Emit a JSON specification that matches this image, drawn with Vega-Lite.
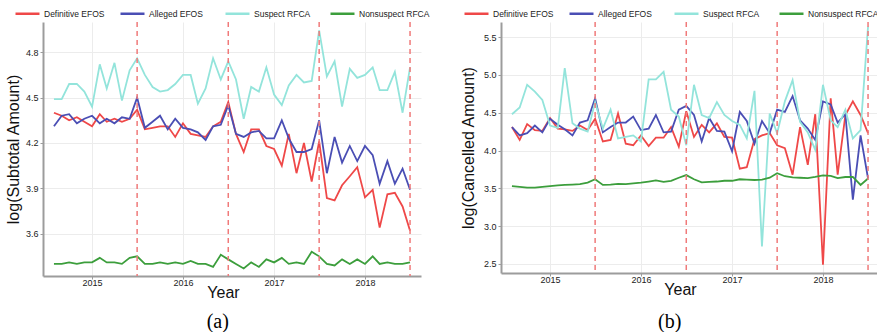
{
"$schema": "https://vega.github.io/schema/vega-lite/v6.json",
"padding": {"left": 5, "top": 0, "right": 0, "bottom": 0},
"bounds": "flush",
"spacing": 80,
"background": "white",
"config": {
 "view": {"stroke": null},
 "font": "Liberation Sans",
 "axis": {"domainColor": "#9c9c9c", "domainWidth": 2, "tickColor": "#9c9c9c", "tickSize": 3, "gridColor": "#ececec", "gridWidth": 1, "labelFont": "Liberation Sans", "labelFontSize": 9, "labelColor": "#222222", "titleFont": "Liberation Sans", "titleFontSize": 16, "titleFontWeight": "normal", "titleColor": "#111111"},
 "axisX": {"labelPadding": -1, "titlePadding": -3},
 "axisY": {"labelPadding": 2},
 "legend": {"labelFont": "Liberation Sans", "labelFontSize": 8.5, "labelColor": "#222222"}
},
"resolve": {"scale": {"color": "independent"}, "legend": {"color": "independent"}},
"datasets": {
 "rules": [{"d": "2015-07"}, {"d": "2016-07"}, {"d": "2017-07"}, {"d": "2018-07"}],
 "a": [
{"s":"Definitive EFOS","t":"2014-08","v":4.40},{"s":"Definitive EFOS","t":"2014-09","v":4.38},{"s":"Definitive EFOS","t":"2014-10","v":4.35},{"s":"Definitive EFOS","t":"2014-11","v":4.37},{"s":"Definitive EFOS","t":"2014-12","v":4.34},{"s":"Definitive EFOS","t":"2015-01","v":4.31},{"s":"Definitive EFOS","t":"2015-02","v":4.39},{"s":"Definitive EFOS","t":"2015-03","v":4.34},{"s":"Definitive EFOS","t":"2015-04","v":4.36},{"s":"Definitive EFOS","t":"2015-05","v":4.34},{"s":"Definitive EFOS","t":"2015-06","v":4.36},{"s":"Definitive EFOS","t":"2015-07","v":4.42},{"s":"Definitive EFOS","t":"2015-08","v":4.29},{"s":"Definitive EFOS","t":"2015-09","v":4.30},{"s":"Definitive EFOS","t":"2015-10","v":4.31},{"s":"Definitive EFOS","t":"2015-11","v":4.31},{"s":"Definitive EFOS","t":"2015-12","v":4.24},{"s":"Definitive EFOS","t":"2016-01","v":4.33},{"s":"Definitive EFOS","t":"2016-02","v":4.26},{"s":"Definitive EFOS","t":"2016-03","v":4.25},{"s":"Definitive EFOS","t":"2016-04","v":4.24},{"s":"Definitive EFOS","t":"2016-05","v":4.31},{"s":"Definitive EFOS","t":"2016-06","v":4.34},{"s":"Definitive EFOS","t":"2016-07","v":4.47},{"s":"Definitive EFOS","t":"2016-08","v":4.26},{"s":"Definitive EFOS","t":"2016-09","v":4.14},{"s":"Definitive EFOS","t":"2016-10","v":4.29},{"s":"Definitive EFOS","t":"2016-11","v":4.29},{"s":"Definitive EFOS","t":"2016-12","v":4.18},{"s":"Definitive EFOS","t":"2017-01","v":4.16},{"s":"Definitive EFOS","t":"2017-02","v":4.05},{"s":"Definitive EFOS","t":"2017-03","v":4.26},{"s":"Definitive EFOS","t":"2017-04","v":4.00},{"s":"Definitive EFOS","t":"2017-05","v":4.20},{"s":"Definitive EFOS","t":"2017-06","v":3.945},{"s":"Definitive EFOS","t":"2017-07","v":4.21},{"s":"Definitive EFOS","t":"2017-08","v":3.835},{"s":"Definitive EFOS","t":"2017-09","v":3.82},{"s":"Definitive EFOS","t":"2017-10","v":3.92},{"s":"Definitive EFOS","t":"2017-11","v":3.98},{"s":"Definitive EFOS","t":"2017-12","v":4.04},{"s":"Definitive EFOS","t":"2018-01","v":3.84},{"s":"Definitive EFOS","t":"2018-02","v":3.89},{"s":"Definitive EFOS","t":"2018-03","v":3.64},{"s":"Definitive EFOS","t":"2018-04","v":3.86},{"s":"Definitive EFOS","t":"2018-05","v":3.87},{"s":"Definitive EFOS","t":"2018-06","v":3.78},{"s":"Definitive EFOS","t":"2018-07","v":3.62},
{"s":"Alleged EFOS","t":"2014-08","v":4.31},{"s":"Alleged EFOS","t":"2014-09","v":4.38},{"s":"Alleged EFOS","t":"2014-10","v":4.39},{"s":"Alleged EFOS","t":"2014-11","v":4.33},{"s":"Alleged EFOS","t":"2014-12","v":4.36},{"s":"Alleged EFOS","t":"2015-01","v":4.38},{"s":"Alleged EFOS","t":"2015-02","v":4.33},{"s":"Alleged EFOS","t":"2015-03","v":4.36},{"s":"Alleged EFOS","t":"2015-04","v":4.33},{"s":"Alleged EFOS","t":"2015-05","v":4.37},{"s":"Alleged EFOS","t":"2015-06","v":4.36},{"s":"Alleged EFOS","t":"2015-07","v":4.50},{"s":"Alleged EFOS","t":"2015-08","v":4.30},{"s":"Alleged EFOS","t":"2015-09","v":4.34},{"s":"Alleged EFOS","t":"2015-10","v":4.38},{"s":"Alleged EFOS","t":"2015-11","v":4.29},{"s":"Alleged EFOS","t":"2015-12","v":4.36},{"s":"Alleged EFOS","t":"2016-01","v":4.30},{"s":"Alleged EFOS","t":"2016-02","v":4.29},{"s":"Alleged EFOS","t":"2016-03","v":4.27},{"s":"Alleged EFOS","t":"2016-04","v":4.22},{"s":"Alleged EFOS","t":"2016-05","v":4.31},{"s":"Alleged EFOS","t":"2016-06","v":4.32},{"s":"Alleged EFOS","t":"2016-07","v":4.45},{"s":"Alleged EFOS","t":"2016-08","v":4.26},{"s":"Alleged EFOS","t":"2016-09","v":4.24},{"s":"Alleged EFOS","t":"2016-10","v":4.27},{"s":"Alleged EFOS","t":"2016-11","v":4.28},{"s":"Alleged EFOS","t":"2016-12","v":4.23},{"s":"Alleged EFOS","t":"2017-01","v":4.23},{"s":"Alleged EFOS","t":"2017-02","v":4.35},{"s":"Alleged EFOS","t":"2017-03","v":4.23},{"s":"Alleged EFOS","t":"2017-04","v":4.14},{"s":"Alleged EFOS","t":"2017-05","v":4.14},{"s":"Alleged EFOS","t":"2017-06","v":4.16},{"s":"Alleged EFOS","t":"2017-07","v":4.35},{"s":"Alleged EFOS","t":"2017-08","v":4.00},{"s":"Alleged EFOS","t":"2017-09","v":4.24},{"s":"Alleged EFOS","t":"2017-10","v":4.07},{"s":"Alleged EFOS","t":"2017-11","v":4.18},{"s":"Alleged EFOS","t":"2017-12","v":4.08},{"s":"Alleged EFOS","t":"2018-01","v":4.18},{"s":"Alleged EFOS","t":"2018-02","v":4.12},{"s":"Alleged EFOS","t":"2018-03","v":3.93},{"s":"Alleged EFOS","t":"2018-04","v":4.08},{"s":"Alleged EFOS","t":"2018-05","v":3.93},{"s":"Alleged EFOS","t":"2018-06","v":4.03},{"s":"Alleged EFOS","t":"2018-07","v":3.89},
{"s":"Suspect RFCA","t":"2014-08","v":4.49},{"s":"Suspect RFCA","t":"2014-09","v":4.49},{"s":"Suspect RFCA","t":"2014-10","v":4.59},{"s":"Suspect RFCA","t":"2014-11","v":4.59},{"s":"Suspect RFCA","t":"2014-12","v":4.54},{"s":"Suspect RFCA","t":"2015-01","v":4.44},{"s":"Suspect RFCA","t":"2015-02","v":4.72},{"s":"Suspect RFCA","t":"2015-03","v":4.56},{"s":"Suspect RFCA","t":"2015-04","v":4.73},{"s":"Suspect RFCA","t":"2015-05","v":4.48},{"s":"Suspect RFCA","t":"2015-06","v":4.68},{"s":"Suspect RFCA","t":"2015-07","v":4.76},{"s":"Suspect RFCA","t":"2015-08","v":4.65},{"s":"Suspect RFCA","t":"2015-09","v":4.57},{"s":"Suspect RFCA","t":"2015-10","v":4.54},{"s":"Suspect RFCA","t":"2015-11","v":4.55},{"s":"Suspect RFCA","t":"2015-12","v":4.59},{"s":"Suspect RFCA","t":"2016-01","v":4.65},{"s":"Suspect RFCA","t":"2016-02","v":4.65},{"s":"Suspect RFCA","t":"2016-03","v":4.46},{"s":"Suspect RFCA","t":"2016-04","v":4.56},{"s":"Suspect RFCA","t":"2016-05","v":4.76},{"s":"Suspect RFCA","t":"2016-06","v":4.62},{"s":"Suspect RFCA","t":"2016-07","v":4.74},{"s":"Suspect RFCA","t":"2016-08","v":4.62},{"s":"Suspect RFCA","t":"2016-09","v":4.36},{"s":"Suspect RFCA","t":"2016-10","v":4.57},{"s":"Suspect RFCA","t":"2016-11","v":4.54},{"s":"Suspect RFCA","t":"2016-12","v":4.70},{"s":"Suspect RFCA","t":"2017-01","v":4.52},{"s":"Suspect RFCA","t":"2017-02","v":4.45},{"s":"Suspect RFCA","t":"2017-03","v":4.58},{"s":"Suspect RFCA","t":"2017-04","v":4.65},{"s":"Suspect RFCA","t":"2017-05","v":4.60},{"s":"Suspect RFCA","t":"2017-06","v":4.61},{"s":"Suspect RFCA","t":"2017-07","v":4.945},{"s":"Suspect RFCA","t":"2017-08","v":4.64},{"s":"Suspect RFCA","t":"2017-09","v":4.74},{"s":"Suspect RFCA","t":"2017-10","v":4.44},{"s":"Suspect RFCA","t":"2017-11","v":4.69},{"s":"Suspect RFCA","t":"2017-12","v":4.63},{"s":"Suspect RFCA","t":"2018-01","v":4.65},{"s":"Suspect RFCA","t":"2018-02","v":4.70},{"s":"Suspect RFCA","t":"2018-03","v":4.55},{"s":"Suspect RFCA","t":"2018-04","v":4.55},{"s":"Suspect RFCA","t":"2018-05","v":4.67},{"s":"Suspect RFCA","t":"2018-06","v":4.40},{"s":"Suspect RFCA","t":"2018-07","v":4.70},
{"s":"Nonsuspect RFCA","t":"2014-08","v":3.40},{"s":"Nonsuspect RFCA","t":"2014-09","v":3.40},{"s":"Nonsuspect RFCA","t":"2014-10","v":3.41},{"s":"Nonsuspect RFCA","t":"2014-11","v":3.40},{"s":"Nonsuspect RFCA","t":"2014-12","v":3.41},{"s":"Nonsuspect RFCA","t":"2015-01","v":3.41},{"s":"Nonsuspect RFCA","t":"2015-02","v":3.44},{"s":"Nonsuspect RFCA","t":"2015-03","v":3.41},{"s":"Nonsuspect RFCA","t":"2015-04","v":3.41},{"s":"Nonsuspect RFCA","t":"2015-05","v":3.40},{"s":"Nonsuspect RFCA","t":"2015-06","v":3.44},{"s":"Nonsuspect RFCA","t":"2015-07","v":3.45},{"s":"Nonsuspect RFCA","t":"2015-08","v":3.40},{"s":"Nonsuspect RFCA","t":"2015-09","v":3.40},{"s":"Nonsuspect RFCA","t":"2015-10","v":3.41},{"s":"Nonsuspect RFCA","t":"2015-11","v":3.40},{"s":"Nonsuspect RFCA","t":"2015-12","v":3.41},{"s":"Nonsuspect RFCA","t":"2016-01","v":3.40},{"s":"Nonsuspect RFCA","t":"2016-02","v":3.42},{"s":"Nonsuspect RFCA","t":"2016-03","v":3.40},{"s":"Nonsuspect RFCA","t":"2016-04","v":3.40},{"s":"Nonsuspect RFCA","t":"2016-05","v":3.38},{"s":"Nonsuspect RFCA","t":"2016-06","v":3.46},{"s":"Nonsuspect RFCA","t":"2016-07","v":3.43},{"s":"Nonsuspect RFCA","t":"2016-08","v":3.40},{"s":"Nonsuspect RFCA","t":"2016-09","v":3.37},{"s":"Nonsuspect RFCA","t":"2016-10","v":3.41},{"s":"Nonsuspect RFCA","t":"2016-11","v":3.38},{"s":"Nonsuspect RFCA","t":"2016-12","v":3.43},{"s":"Nonsuspect RFCA","t":"2017-01","v":3.41},{"s":"Nonsuspect RFCA","t":"2017-02","v":3.44},{"s":"Nonsuspect RFCA","t":"2017-03","v":3.40},{"s":"Nonsuspect RFCA","t":"2017-04","v":3.41},{"s":"Nonsuspect RFCA","t":"2017-05","v":3.40},{"s":"Nonsuspect RFCA","t":"2017-06","v":3.48},{"s":"Nonsuspect RFCA","t":"2017-07","v":3.45},{"s":"Nonsuspect RFCA","t":"2017-08","v":3.40},{"s":"Nonsuspect RFCA","t":"2017-09","v":3.39},{"s":"Nonsuspect RFCA","t":"2017-10","v":3.43},{"s":"Nonsuspect RFCA","t":"2017-11","v":3.40},{"s":"Nonsuspect RFCA","t":"2017-12","v":3.43},{"s":"Nonsuspect RFCA","t":"2018-01","v":3.40},{"s":"Nonsuspect RFCA","t":"2018-02","v":3.45},{"s":"Nonsuspect RFCA","t":"2018-03","v":3.40},{"s":"Nonsuspect RFCA","t":"2018-04","v":3.41},{"s":"Nonsuspect RFCA","t":"2018-05","v":3.40},{"s":"Nonsuspect RFCA","t":"2018-06","v":3.40},{"s":"Nonsuspect RFCA","t":"2018-07","v":3.41}
 ],
 "b": [
{"s":"Definitive EFOS","t":"2014-08","v":4.31},{"s":"Definitive EFOS","t":"2014-09","v":4.14},{"s":"Definitive EFOS","t":"2014-10","v":4.35},{"s":"Definitive EFOS","t":"2014-11","v":4.27},{"s":"Definitive EFOS","t":"2014-12","v":4.26},{"s":"Definitive EFOS","t":"2015-01","v":4.43},{"s":"Definitive EFOS","t":"2015-02","v":4.29},{"s":"Definitive EFOS","t":"2015-03","v":4.28},{"s":"Definitive EFOS","t":"2015-04","v":4.26},{"s":"Definitive EFOS","t":"2015-05","v":4.33},{"s":"Definitive EFOS","t":"2015-06","v":4.27},{"s":"Definitive EFOS","t":"2015-07","v":4.42},{"s":"Definitive EFOS","t":"2015-08","v":4.12},{"s":"Definitive EFOS","t":"2015-09","v":4.14},{"s":"Definitive EFOS","t":"2015-10","v":4.49},{"s":"Definitive EFOS","t":"2015-11","v":4.09},{"s":"Definitive EFOS","t":"2015-12","v":4.07},{"s":"Definitive EFOS","t":"2016-01","v":4.20},{"s":"Definitive EFOS","t":"2016-02","v":4.06},{"s":"Definitive EFOS","t":"2016-03","v":4.17},{"s":"Definitive EFOS","t":"2016-04","v":4.17},{"s":"Definitive EFOS","t":"2016-05","v":4.31},{"s":"Definitive EFOS","t":"2016-06","v":4.05},{"s":"Definitive EFOS","t":"2016-07","v":4.52},{"s":"Definitive EFOS","t":"2016-08","v":4.18},{"s":"Definitive EFOS","t":"2016-09","v":4.34},{"s":"Definitive EFOS","t":"2016-10","v":4.24},{"s":"Definitive EFOS","t":"2016-11","v":4.36},{"s":"Definitive EFOS","t":"2016-12","v":4.18},{"s":"Definitive EFOS","t":"2017-01","v":4.17},{"s":"Definitive EFOS","t":"2017-02","v":3.76},{"s":"Definitive EFOS","t":"2017-03","v":3.78},{"s":"Definitive EFOS","t":"2017-04","v":4.15},{"s":"Definitive EFOS","t":"2017-05","v":4.20},{"s":"Definitive EFOS","t":"2017-06","v":4.23},{"s":"Definitive EFOS","t":"2017-07","v":4.07},{"s":"Definitive EFOS","t":"2017-08","v":4.03},{"s":"Definitive EFOS","t":"2017-09","v":3.68},{"s":"Definitive EFOS","t":"2017-10","v":4.31},{"s":"Definitive EFOS","t":"2017-11","v":3.81},{"s":"Definitive EFOS","t":"2017-12","v":4.48},{"s":"Definitive EFOS","t":"2018-01","v":2.49},{"s":"Definitive EFOS","t":"2018-02","v":4.69},{"s":"Definitive EFOS","t":"2018-03","v":3.68},{"s":"Definitive EFOS","t":"2018-04","v":4.47},{"s":"Definitive EFOS","t":"2018-05","v":4.65},{"s":"Definitive EFOS","t":"2018-06","v":4.47},{"s":"Definitive EFOS","t":"2018-07","v":4.23},
{"s":"Alleged EFOS","t":"2014-08","v":4.31},{"s":"Alleged EFOS","t":"2014-09","v":4.20},{"s":"Alleged EFOS","t":"2014-10","v":4.23},{"s":"Alleged EFOS","t":"2014-11","v":4.33},{"s":"Alleged EFOS","t":"2014-12","v":4.24},{"s":"Alleged EFOS","t":"2015-01","v":4.42},{"s":"Alleged EFOS","t":"2015-02","v":4.34},{"s":"Alleged EFOS","t":"2015-03","v":4.28},{"s":"Alleged EFOS","t":"2015-04","v":4.20},{"s":"Alleged EFOS","t":"2015-05","v":4.37},{"s":"Alleged EFOS","t":"2015-06","v":4.40},{"s":"Alleged EFOS","t":"2015-07","v":4.69},{"s":"Alleged EFOS","t":"2015-08","v":4.24},{"s":"Alleged EFOS","t":"2015-09","v":4.31},{"s":"Alleged EFOS","t":"2015-10","v":4.37},{"s":"Alleged EFOS","t":"2015-11","v":4.37},{"s":"Alleged EFOS","t":"2015-12","v":4.45},{"s":"Alleged EFOS","t":"2016-01","v":4.27},{"s":"Alleged EFOS","t":"2016-02","v":4.29},{"s":"Alleged EFOS","t":"2016-03","v":4.47},{"s":"Alleged EFOS","t":"2016-04","v":4.24},{"s":"Alleged EFOS","t":"2016-05","v":4.25},{"s":"Alleged EFOS","t":"2016-06","v":4.54},{"s":"Alleged EFOS","t":"2016-07","v":4.59},{"s":"Alleged EFOS","t":"2016-08","v":4.47},{"s":"Alleged EFOS","t":"2016-09","v":4.12},{"s":"Alleged EFOS","t":"2016-10","v":4.43},{"s":"Alleged EFOS","t":"2016-11","v":4.26},{"s":"Alleged EFOS","t":"2016-12","v":4.25},{"s":"Alleged EFOS","t":"2017-01","v":3.99},{"s":"Alleged EFOS","t":"2017-02","v":4.51},{"s":"Alleged EFOS","t":"2017-03","v":4.39},{"s":"Alleged EFOS","t":"2017-04","v":4.09},{"s":"Alleged EFOS","t":"2017-05","v":4.39},{"s":"Alleged EFOS","t":"2017-06","v":4.23},{"s":"Alleged EFOS","t":"2017-07","v":4.54},{"s":"Alleged EFOS","t":"2017-08","v":4.51},{"s":"Alleged EFOS","t":"2017-09","v":4.72},{"s":"Alleged EFOS","t":"2017-10","v":4.40},{"s":"Alleged EFOS","t":"2017-11","v":4.29},{"s":"Alleged EFOS","t":"2017-12","v":4.14},{"s":"Alleged EFOS","t":"2018-01","v":4.65},{"s":"Alleged EFOS","t":"2018-02","v":4.61},{"s":"Alleged EFOS","t":"2018-03","v":4.37},{"s":"Alleged EFOS","t":"2018-04","v":4.48},{"s":"Alleged EFOS","t":"2018-05","v":3.35},{"s":"Alleged EFOS","t":"2018-06","v":4.20},{"s":"Alleged EFOS","t":"2018-07","v":3.63},
{"s":"Suspect RFCA","t":"2014-08","v":4.48},{"s":"Suspect RFCA","t":"2014-09","v":4.57},{"s":"Suspect RFCA","t":"2014-10","v":4.87},{"s":"Suspect RFCA","t":"2014-11","v":4.78},{"s":"Suspect RFCA","t":"2014-12","v":4.67},{"s":"Suspect RFCA","t":"2015-01","v":4.33},{"s":"Suspect RFCA","t":"2015-02","v":4.30},{"s":"Suspect RFCA","t":"2015-03","v":5.09},{"s":"Suspect RFCA","t":"2015-04","v":4.36},{"s":"Suspect RFCA","t":"2015-05","v":4.29},{"s":"Suspect RFCA","t":"2015-06","v":4.25},{"s":"Suspect RFCA","t":"2015-07","v":4.64},{"s":"Suspect RFCA","t":"2015-08","v":4.29},{"s":"Suspect RFCA","t":"2015-09","v":4.54},{"s":"Suspect RFCA","t":"2015-10","v":4.16},{"s":"Suspect RFCA","t":"2015-11","v":4.18},{"s":"Suspect RFCA","t":"2015-12","v":4.20},{"s":"Suspect RFCA","t":"2016-01","v":4.12},{"s":"Suspect RFCA","t":"2016-02","v":4.94},{"s":"Suspect RFCA","t":"2016-03","v":4.94},{"s":"Suspect RFCA","t":"2016-04","v":5.04},{"s":"Suspect RFCA","t":"2016-05","v":4.54},{"s":"Suspect RFCA","t":"2016-06","v":4.45},{"s":"Suspect RFCA","t":"2016-07","v":4.07},{"s":"Suspect RFCA","t":"2016-08","v":4.87},{"s":"Suspect RFCA","t":"2016-09","v":4.47},{"s":"Suspect RFCA","t":"2016-10","v":4.43},{"s":"Suspect RFCA","t":"2016-11","v":4.64},{"s":"Suspect RFCA","t":"2016-12","v":4.47},{"s":"Suspect RFCA","t":"2017-01","v":4.39},{"s":"Suspect RFCA","t":"2017-02","v":4.34},{"s":"Suspect RFCA","t":"2017-03","v":4.16},{"s":"Suspect RFCA","t":"2017-04","v":4.79},{"s":"Suspect RFCA","t":"2017-05","v":2.73},{"s":"Suspect RFCA","t":"2017-06","v":4.49},{"s":"Suspect RFCA","t":"2017-07","v":4.23},{"s":"Suspect RFCA","t":"2017-08","v":4.65},{"s":"Suspect RFCA","t":"2017-09","v":4.93},{"s":"Suspect RFCA","t":"2017-10","v":4.38},{"s":"Suspect RFCA","t":"2017-11","v":4.24},{"s":"Suspect RFCA","t":"2017-12","v":4.01},{"s":"Suspect RFCA","t":"2018-01","v":4.87},{"s":"Suspect RFCA","t":"2018-02","v":4.40},{"s":"Suspect RFCA","t":"2018-03","v":4.31},{"s":"Suspect RFCA","t":"2018-04","v":4.54},{"s":"Suspect RFCA","t":"2018-05","v":4.16},{"s":"Suspect RFCA","t":"2018-06","v":4.27},{"s":"Suspect RFCA","t":"2018-07","v":5.64},
{"s":"Nonsuspect RFCA","t":"2014-08","v":3.53},{"s":"Nonsuspect RFCA","t":"2014-09","v":3.52},{"s":"Nonsuspect RFCA","t":"2014-10","v":3.51},{"s":"Nonsuspect RFCA","t":"2014-11","v":3.51},{"s":"Nonsuspect RFCA","t":"2014-12","v":3.52},{"s":"Nonsuspect RFCA","t":"2015-01","v":3.53},{"s":"Nonsuspect RFCA","t":"2015-02","v":3.54},{"s":"Nonsuspect RFCA","t":"2015-03","v":3.545},{"s":"Nonsuspect RFCA","t":"2015-04","v":3.55},{"s":"Nonsuspect RFCA","t":"2015-05","v":3.555},{"s":"Nonsuspect RFCA","t":"2015-06","v":3.575},{"s":"Nonsuspect RFCA","t":"2015-07","v":3.62},{"s":"Nonsuspect RFCA","t":"2015-08","v":3.545},{"s":"Nonsuspect RFCA","t":"2015-09","v":3.55},{"s":"Nonsuspect RFCA","t":"2015-10","v":3.56},{"s":"Nonsuspect RFCA","t":"2015-11","v":3.555},{"s":"Nonsuspect RFCA","t":"2015-12","v":3.565},{"s":"Nonsuspect RFCA","t":"2016-01","v":3.575},{"s":"Nonsuspect RFCA","t":"2016-02","v":3.59},{"s":"Nonsuspect RFCA","t":"2016-03","v":3.605},{"s":"Nonsuspect RFCA","t":"2016-04","v":3.585},{"s":"Nonsuspect RFCA","t":"2016-05","v":3.60},{"s":"Nonsuspect RFCA","t":"2016-06","v":3.64},{"s":"Nonsuspect RFCA","t":"2016-07","v":3.675},{"s":"Nonsuspect RFCA","t":"2016-08","v":3.62},{"s":"Nonsuspect RFCA","t":"2016-09","v":3.58},{"s":"Nonsuspect RFCA","t":"2016-10","v":3.585},{"s":"Nonsuspect RFCA","t":"2016-11","v":3.59},{"s":"Nonsuspect RFCA","t":"2016-12","v":3.60},{"s":"Nonsuspect RFCA","t":"2017-01","v":3.60},{"s":"Nonsuspect RFCA","t":"2017-02","v":3.62},{"s":"Nonsuspect RFCA","t":"2017-03","v":3.615},{"s":"Nonsuspect RFCA","t":"2017-04","v":3.61},{"s":"Nonsuspect RFCA","t":"2017-05","v":3.615},{"s":"Nonsuspect RFCA","t":"2017-06","v":3.64},{"s":"Nonsuspect RFCA","t":"2017-07","v":3.70},{"s":"Nonsuspect RFCA","t":"2017-08","v":3.66},{"s":"Nonsuspect RFCA","t":"2017-09","v":3.645},{"s":"Nonsuspect RFCA","t":"2017-10","v":3.64},{"s":"Nonsuspect RFCA","t":"2017-11","v":3.635},{"s":"Nonsuspect RFCA","t":"2017-12","v":3.65},{"s":"Nonsuspect RFCA","t":"2018-01","v":3.67},{"s":"Nonsuspect RFCA","t":"2018-02","v":3.665},{"s":"Nonsuspect RFCA","t":"2018-03","v":3.635},{"s":"Nonsuspect RFCA","t":"2018-04","v":3.65},{"s":"Nonsuspect RFCA","t":"2018-05","v":3.65},{"s":"Nonsuspect RFCA","t":"2018-06","v":3.545},{"s":"Nonsuspect RFCA","t":"2018-07","v":3.63}
 ]
},
"hconcat": [
 {
  "width": 378, "height": 254,
  "title": {"text": "(a)", "orient": "bottom", "anchor": "middle", "frame": "bounds", "font": "Liberation Serif", "fontSize": 20, "fontWeight": "normal", "color": "#000000", "offset": 12},
  "layer": [
   {
    "data": {"name": "a"},
    "mark": {"type": "line", "strokeWidth": 1.8},
    "encoding": {
     "x": {"field": "t", "type": "temporal", "title": "Year",
           "scale": {"domain": [{"year": 2014, "month": 6, "date": 18}, {"year": 2018, "month": 8, "date": 14}]},
           "axis": {"values": [{"year": 2015}, {"year": 2016}, {"year": 2017}, {"year": 2018}], "format": "%Y", "titleX": 180}},
     "y": {"field": "v", "type": "quantitative", "title": "log(Subtotal Amount)",
           "scale": {"domain": [3.32, 5.0], "nice": false, "zero": false},
           "axis": {"values": [3.6, 3.9, 4.2, 4.5, 4.8], "format": ".1f", "titlePadding": 4}},
     "color": {"field": "s", "type": "nominal",
               "scale": {"domain": ["Definitive EFOS", "Alleged EFOS", "Suspect RFCA", "Nonsuspect RFCA"], "range": ["#ef4848", "#4a4eb4", "#93e4db", "#3c9e3c"]},
               "legend": {"title": null, "orient": "none", "legendX": -29, "legendY": -22, "direction": "horizontal", "columns": 4, "symbolType": "stroke", "symbolSize": 576, "symbolStrokeWidth": 2.5, "labelOffset": 3, "gridAlign": "all", "columnPadding": 0}}
    }
   },
   {
    "data": {"name": "rules"},
    "mark": {"type": "rule", "color": "#f07a7a", "strokeDash": [5, 4], "strokeWidth": 1.5},
    "encoding": {"x": {"field": "d", "type": "temporal"}}
   }
  ]
 },
 {
  "width": 378, "height": 251,
  "title": {"text": "(b)", "orient": "bottom", "anchor": "middle", "frame": "bounds", "font": "Liberation Serif", "fontSize": 20, "fontWeight": "normal", "color": "#000000", "offset": 15},
  "layer": [
   {
    "data": {"name": "b"},
    "mark": {"type": "line", "strokeWidth": 1.8},
    "encoding": {
     "x": {"field": "t", "type": "temporal", "title": "Year",
           "scale": {"domain": [{"year": 2014, "month": 6, "date": 18}, {"year": 2018, "month": 8, "date": 14}]},
           "axis": {"values": [{"year": 2015}, {"year": 2016}, {"year": 2017}, {"year": 2018}], "format": "%Y", "titleX": 179}},
     "y": {"field": "v", "type": "quantitative", "title": "log(Cancelled Amount)",
           "scale": {"domain": [2.38, 5.70], "nice": false, "zero": false},
           "axis": {"values": [2.5, 3.0, 3.5, 4.0, 4.5, 5.0, 5.5], "format": ".1f", "titlePadding": 7}},
     "color": {"field": "s", "type": "nominal",
               "scale": {"domain": ["Definitive EFOS", "Alleged EFOS", "Suspect RFCA", "Nonsuspect RFCA"], "range": ["#ef4848", "#4a4eb4", "#93e4db", "#3c9e3c"]},
               "legend": {"title": null, "orient": "none", "legendX": -38, "legendY": -22, "direction": "horizontal", "columns": 4, "symbolType": "stroke", "symbolSize": 576, "symbolStrokeWidth": 2.5, "labelOffset": 3, "gridAlign": "all", "columnPadding": 0}}
    }
   },
   {
    "data": {"name": "rules"},
    "mark": {"type": "rule", "color": "#f07a7a", "strokeDash": [5, 4], "strokeWidth": 1.5},
    "encoding": {"x": {"field": "d", "type": "temporal"}}
   }
  ]
 }
]
}
